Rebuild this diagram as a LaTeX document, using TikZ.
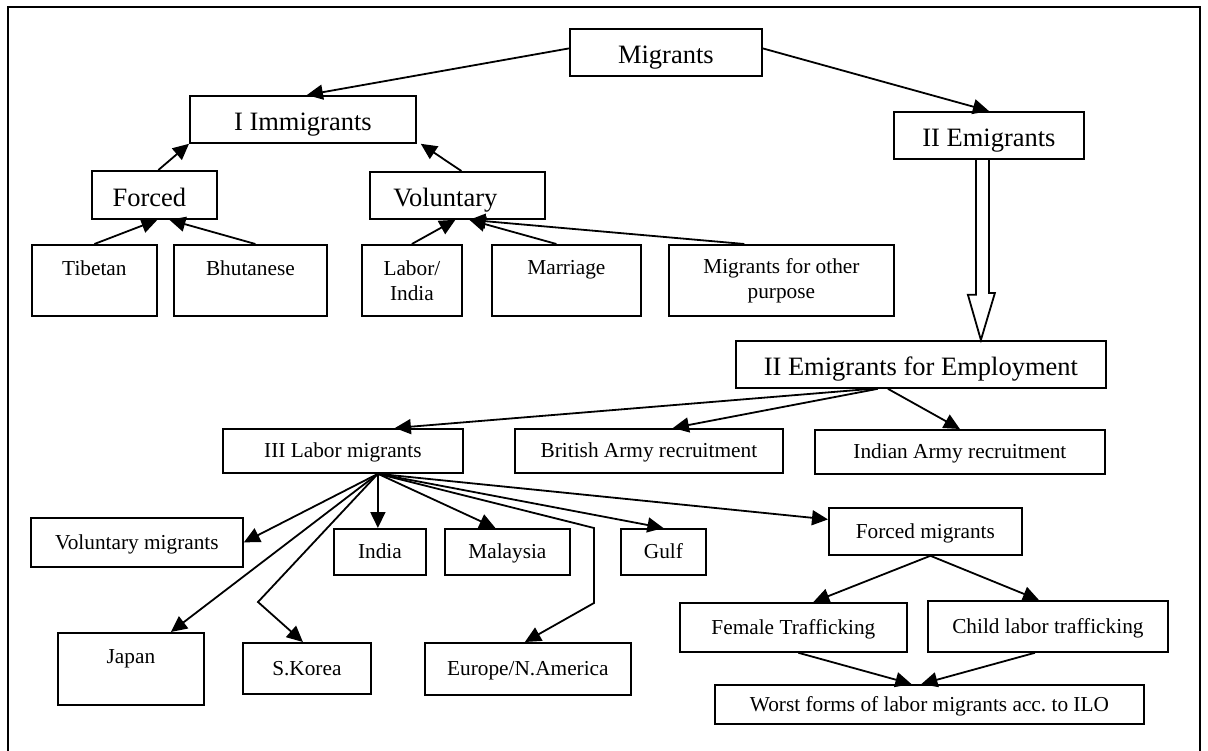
\documentclass[tikz,border=0pt]{standalone}
\usepackage{fontspec}
\setmainfont{Liberation Serif}
\usetikzlibrary{arrows.meta,calc}
\begin{document}
\begin{tikzpicture}[x=1pt,y=-1pt,
  box/.style={draw, line width=1.8pt, inner sep=0pt, anchor=north west, align=center},
  big/.style={font=\fontsize{26.5}{30}\selectfont, text height=23pt, text depth=0pt},
  small/.style={font=\fontsize{21.3}{25}\selectfont},
  one/.style={small, text height=15.5pt, text depth=1.5pt},
  arr/.style={line width=1.8pt, -{Triangle[length=16pt,width=15pt]}},
  hollow/.style={line width=1.8pt, line join=miter}]
\useasboundingbox (0,0) rectangle (1208,751);
\fill[white] (0,0) rectangle (1208,751);
\draw[line width=2pt] (8,760) -- (8,7) -- (1200,7) -- (1200,760);

% level 0/1
\node[box,big,minimum width=192pt,minimum height=47pt] (mig) at (569,28) {Migrants};
\node[box,big,minimum width=226pt,minimum height=47pt] (imm) at (189,95) {I Immigrants};
\node[box,big,minimum width=190pt,minimum height=47pt] (emi) at (893,111) {II Emigrants};
\node[box,big,minimum width=125pt,minimum height=48pt] (forced) at (91,170) {Forced\hspace*{10pt}};
\node[box,big,minimum width=175pt,minimum height=47pt] (vol) at (369,171) {Voluntary\hspace*{24pt}};

\node[box,small,minimum width=125pt,minimum height=71pt] (tib) at (31,244) {Tibetan\\\mbox{}};
\node[box,small,minimum width=153pt,minimum height=71pt] (bhu) at (173,244) {Bhutanese\\\mbox{}};
\node[box,small,minimum width=100pt,minimum height=71pt] (lab) at (361,244) {Labor/\\India};
\node[box,small,minimum width=149pt,minimum height=71pt] (mar) at (491,244) {Marriage\\\mbox{}};
\node[box,small,minimum width=225pt,minimum height=71pt] (oth) at (668,244) {Migrants for other\\purpose};

\node[box,big,minimum width=370pt,minimum height=47pt] (empl) at (735,340) {II Emigrants for Employment};
\node[box,one,minimum width=240pt,minimum height=44pt] (lab3) at (222,428) {III Labor migrants};
\node[box,one,minimum width=268pt,minimum height=44pt] (brit) at (514,428) {British Army recruitment};
\node[box,one,minimum width=290pt,minimum height=44pt] (ind) at (814,429) {Indian Army recruitment};

\node[box,one,minimum width=212pt,minimum height=49pt] (volm) at (30,517) {Voluntary migrants};
\node[box,one,minimum width=92pt,minimum height=46pt] (india) at (333,528) {India};
\node[box,one,minimum width=125pt,minimum height=46pt] (mal) at (444,528) {Malaysia};
\node[box,one,minimum width=85pt,minimum height=46pt] (gulf) at (620,528) {Gulf};
\node[box,one,minimum width=193pt,minimum height=47pt] (fm) at (828,507) {Forced migrants};

\node[box,small,minimum width=146pt,minimum height=72pt] (japan) at (57,632) {Japan\\\mbox{}};
\node[box,one,minimum width=128pt,minimum height=51pt] (skor) at (242,642) {S.Korea};
\node[box,one,minimum width=206pt,minimum height=52pt] (eur) at (424,642) {Europe/N.America};
\node[box,one,minimum width=227pt,minimum height=49pt] (fem) at (679,602) {Female Trafficking};
\node[box,one,minimum width=240pt,minimum height=51pt] (child) at (927,600) {Child labor trafficking};
\node[box,one,minimum width=429pt,minimum height=39pt] (worst) at (714,684) {Worst forms of labor migrants acc.\ to ILO};

% top connectors
\draw[arr] ([yshift=4pt]mig.west) -- ([xshift=4pt]imm.north);
\draw[arr] ([yshift=4pt]mig.east) -- (emi.north);
\draw[arr] ([xshift=4pt]forced.north) -- (imm.south west);
\draw[arr] ([xshift=4pt]vol.north) -- ([xshift=4pt]imm.south east);
\draw[arr] (tib.north) -- ([xshift=3pt]forced.south);
\draw[arr] ([xshift=5pt]bhu.north) -- ([xshift=15pt]forced.south);
\draw[arr] (lab.north) -- ([xshift=-2pt]vol.south);
\draw[arr] ([xshift=-10pt]mar.north) -- ([xshift=12pt]vol.south);
\draw[arr] ([xshift=-37pt]oth.north) -- ([xshift=12pt]vol.south);

% hollow arrow
\path (emi.south |- empl.north) coordinate (tq);
\draw[hollow] ([xshift=-13pt]emi.south) -- ++(0,135) -- ++(-8,0) -- ([xshift=-8pt]tq) -- ++(14,-47) -- ++(-6,0) -- (emi.south);

% employment
\draw[arr] ([xshift=-49pt]empl.south) -- ([xshift=52pt]lab3.north);
\draw[arr] ([xshift=-43pt]empl.south) -- ([xshift=24pt]brit.north);
\draw[arr] ([xshift=-33pt]empl.south) -- (ind.north);

% labor migrants fan
\coordinate (o) at ([xshift=35pt]lab3.south);
\draw[arr] (o) -- (volm.east);
\draw[arr] (o) -- ([xshift=40pt]japan.north);
\draw[arr] (o) -- (258,602) -- ([xshift=-4pt]skor.north);
\draw[arr] (o) -- (o |- india.north);
\draw[arr] (o) -- ([xshift=-12pt]mal.north);
\draw[arr] (o) -- (594,528) -- (594,603) -- ([xshift=-3pt]eur.north);
\draw[arr] (o) -- (gulf.north);
\draw[arr] (o) -- ([yshift=12pt]fm.west);

% forced migrants
\draw[arr] ([xshift=5pt]fm.south) -- ([xshift=20pt]fem.north);
\draw[arr] ([xshift=5pt]fm.south) -- ([xshift=-9pt]child.north);
\draw[arr] ([xshift=5pt]fem.south) -- ([xshift=-18pt]worst.north);
\draw[arr] ([xshift=-13pt]child.south) -- ([xshift=-8pt]worst.north);
\end{tikzpicture}
\end{document}
